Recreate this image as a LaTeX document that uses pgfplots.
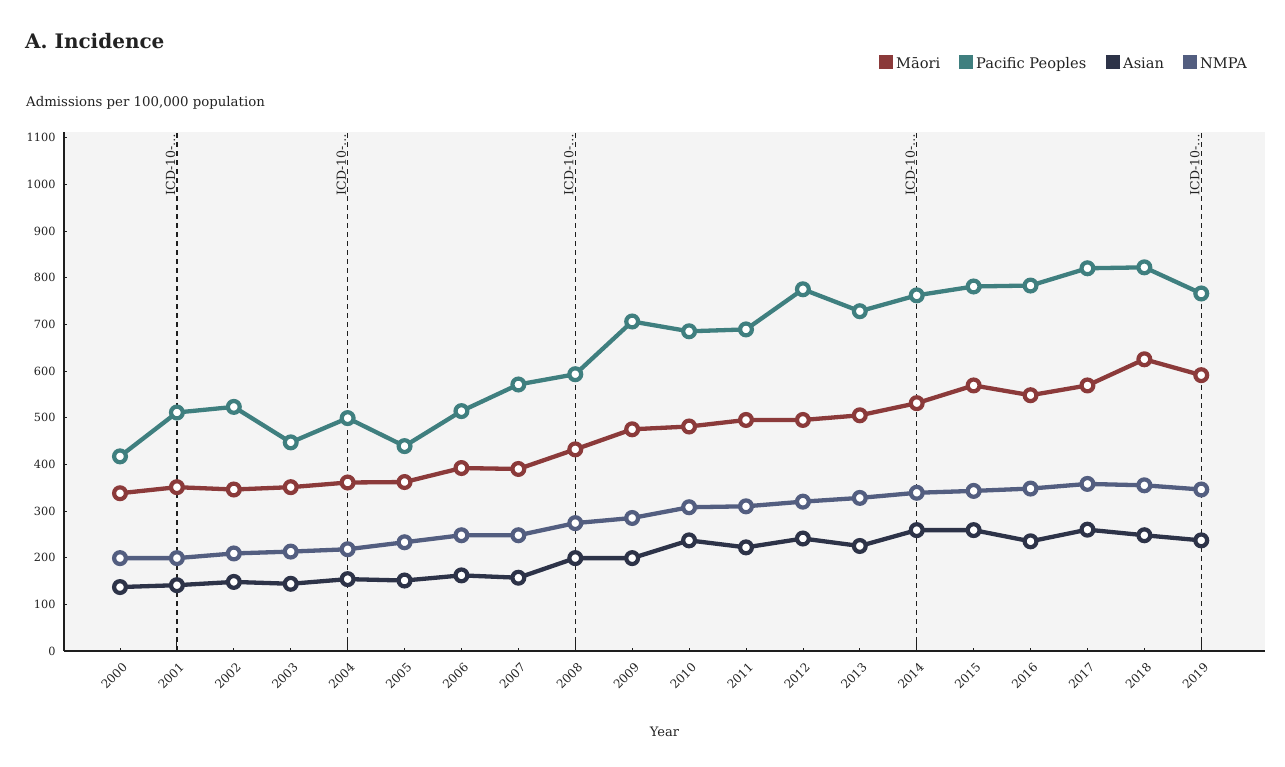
\documentclass[border=0pt]{standalone}
\usepackage{pgfplots}
\pgfplotsset{compat=1.18}
\usepackage{fontspec}
\setmainfont{DejaVu Serif}
\definecolor{maori}{HTML}{8B3A3A}
\definecolor{pacific}{HTML}{3F7F7F}
\definecolor{asian}{HTML}{2D3348}
\definecolor{nmpa}{HTML}{535E80}
\definecolor{bgcol}{HTML}{F4F4F4}
\definecolor{axisc}{HTML}{1E1E1E}
\definecolor{txt}{HTML}{222222}
\pgfplotsset{series/.style={color=#1, line width=4.3pt, mark=*, mark size=5.9pt, mark options={fill=white, draw=#1, line width=4.2pt, solid}}}
\begin{document}
\begin{tikzpicture}[x=1pt,y=1pt]
\useasboundingbox (0,0) rectangle (1285,766);
\node[anchor=base west, inner sep=0pt, text=txt, font=\fontsize{20}{24}\selectfont\bfseries] at (25,717) {A. Incidence};
\node[anchor=base west, inner sep=0pt, text=txt, font=\fontsize{13.3}{16}\selectfont] at (26,659) {Admissions per 100,000 population};
% legend
\fill[maori] (879,697) rectangle (893,711);
\node[anchor=base west, inner sep=0pt, text=txt, font=\fontsize{14.6}{17}\selectfont] at (896,697) {Māori};
\fill[pacific] (959,697) rectangle (973,711);
\node[anchor=base west, inner sep=0pt, text=txt, font=\fontsize{14.6}{17}\selectfont] at (976,697) {Pacific Peoples};
\fill[asian] (1106,697) rectangle (1120,711);
\node[anchor=base west, inner sep=0pt, text=txt, font=\fontsize{14.6}{17}\selectfont] at (1123,697) {Asian};
\fill[nmpa] (1183,697) rectangle (1197,711);
\node[anchor=base west, inner sep=0pt, text=txt, font=\fontsize{14.6}{17}\selectfont] at (1200,697) {NMPA};
\begin{axis}[
  at={(64pt,115pt)}, anchor=south west,
  width=1201pt, height=519pt, scale only axis,
  xmin=1999.016, xmax=2020.12, ymin=0, ymax=1112,
  axis background/.style={fill=bgcol},
  axis x line=bottom, axis y line=left,
  axis line style={line width=2pt, color=axisc, -},
  xtick={2000,2001,...,2019},
  ytick={0,100,...,1100},
  tick align=inside, major tick length=3pt,
  tick style={color=axisc, line width=0.8pt},
  extra x ticks={2001,2004,2008,2014,2019},
  extra x tick labels={},
  extra x tick style={major tick length=9pt, tick style={line width=1pt}},
  /pgf/number format/assume math mode=true,
  /pgf/number format/1000 sep={},
  yticklabel style={font=\fontsize{11.3}{13}\selectfont, text=txt, xshift=-5pt},
  xticklabel style={font=\fontsize{12}{14}\selectfont, text=txt, xshift=5pt, rotate=45, anchor=east, inner sep=0pt},
  xticklabel shift=14pt,
  xlabel={Year},
  xlabel style={font=\fontsize{13}{15}\selectfont, text=txt, at={(axis description cs:0.5,0)}, anchor=base, yshift=-85pt},
  clip=false,
]
% ICD reference lines
\pgfplotsinvokeforeach{2001,2004,2008,2014,2019}{
  \draw[line width=1.3pt, color=axisc, dash pattern=on 5pt off 4pt] (axis cs:#1,0) -- (axis cs:#1,1112);
  \node[rotate=90, anchor=south east, inner sep=1.5pt, text=txt, font=\fontsize{12.5}{14}\selectfont] at (axis cs:#1,1112) {ICD-10-…};
}
\addplot[series=pacific] coordinates {
(2000,417)(2001,511)(2002,523)(2003,447)(2004,499)(2005,439)(2006,514)(2007,571)(2008,593)(2009,706)
(2010,685)(2011,689)(2012,775)(2013,728)(2014,762)(2015,781)(2016,783)(2017,820)(2018,822)(2019,766)};
\addplot[series=maori] coordinates {
(2000,338)(2001,351)(2002,346)(2003,351)(2004,361)(2005,362)(2006,392)(2007,390)(2008,432)(2009,475)
(2010,481)(2011,495)(2012,495)(2013,505)(2014,531)(2015,569)(2016,548)(2017,569)(2018,625)(2019,591)};
\addplot[series=nmpa] coordinates {
(2000,199)(2001,199)(2002,209)(2003,213)(2004,218)(2005,233)(2006,248)(2007,248)(2008,274)(2009,285)
(2010,308)(2011,310)(2012,320)(2013,328)(2014,339)(2015,343)(2016,348)(2017,358)(2018,355)(2019,346)};
\addplot[series=asian] coordinates {
(2000,137)(2001,141)(2002,148)(2003,144)(2004,154)(2005,151)(2006,162)(2007,157)(2008,199)(2009,199)
(2010,237)(2011,222)(2012,241)(2013,225)(2014,259)(2015,259)(2016,235)(2017,260)(2018,248)(2019,237)};
\end{axis}
\end{tikzpicture}
\end{document}
